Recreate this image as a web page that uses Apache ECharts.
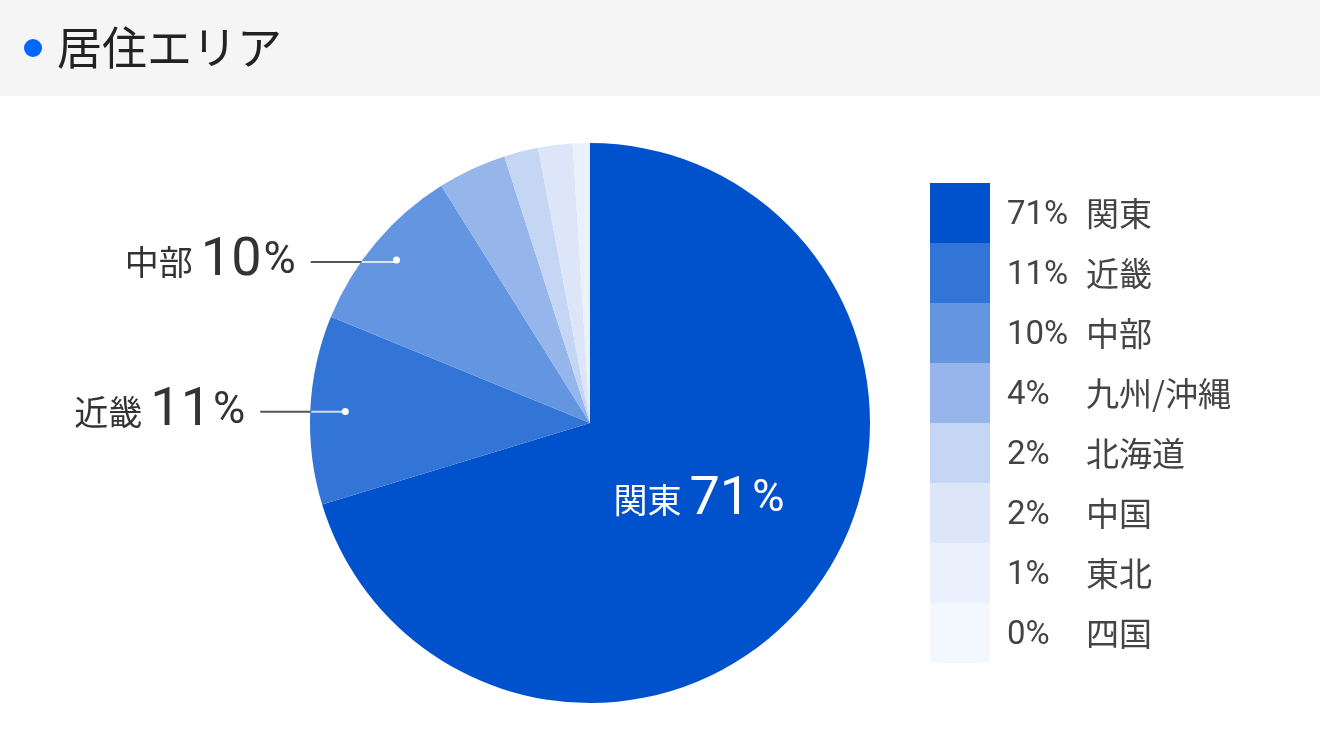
<!DOCTYPE html>
<html>
<head>
<meta charset="utf-8">
<script src="https://cdn.jsdelivr.net/npm/echarts@6/dist/echarts.min.js"></script>
<style>
  html, body { margin: 0; padding: 0; background: #fff; }
  #chart { width: 1320px; height: 752px; }
</style>
</head>
<body>
<div id="chart"></div>
<script>
// data
const areas = ["関東", "近畿", "中部", "九州/沖縄", "北海道", "中国", "東北", "四国"];
const percents = [71, 11, 10, 4, 2, 2, 1, 0];
const colors = ["#0052cc", "#3375d7", "#6495e0", "#95b5eb", "#c4d6f4", "#dce6f8", "#eaf1fc", "#f3f7fe"];
const calloutAreas = ["近畿", "中部"];
const insideAreas = ["関東"];

const FONT = 'Roboto, "Noto Sans CJK JP", sans-serif';
const JP = '"Noto Sans CJK JP", sans-serif';

const center = [590, 423];
const R = 280;
// radius where each callout line starts
const pinRadius = { "近畿": 242, "中部": 250 };

const chart = echarts.init(document.getElementById("chart"));

// label text: name + big number + small %
const bigLabel = (color, nameSize) => ({
  formatter: p => `{n|${p.name}}{v|${p.value}}{u|%}`,
  rich: {
    n: { color, fontSize: nameSize, fontFamily: JP, padding: [0, 8, 0, 0] },
    v: { color, fontSize: 54, fontFamily: FONT },
    u: { color, fontSize: 44, fontFamily: FONT, padding: [0, 0, 0, 2] }
  }
});

const base = {
  type: "pie",
  center: center,
  startAngle: 90,
  clockwise: true,
  silent: true,
  animation: false,
  avoidLabelOverlap: false
};

const onlyFor = area => areas.map((name, i) => ({
  name, value: percents[i],
  label: { show: name === area },
  labelLine: { show: name === area }
}));

// three layers per callout: gray line + text, light inner line, dot
const calloutSeries = area => {
  const r = pinRadius[area];
  return [
    Object.assign({}, base, {
      z: 1, radius: [0, r],
      itemStyle: { color: "transparent" },
      label: Object.assign({ position: "outside", distanceToLabelLine: 15 }, bigLabel("#333", 34)),
      labelLine: { show: true, length: 0, length2: 88, lineStyle: { color: "#555", width: 2 } },
      data: onlyFor(area)
    }),
    Object.assign({}, base, {
      z: 3, radius: [0, r],
      itemStyle: { color: "transparent" },
      label: { position: "outside", formatter: " ", color: "transparent", fontSize: 2 },
      labelLine: { show: true, length: 0, length2: 37, lineStyle: { color: "rgba(255,255,255,0.75)", width: 2 } },
      data: onlyFor(area)
    }),
    Object.assign({}, base, {
      z: 4, radius: [0, r * 2],
      itemStyle: { color: "transparent" },
      label: {
        position: "inside", formatter: " ", fontSize: 1,
        width: 7, height: 7, padding: 0, borderRadius: 3.5, backgroundColor: "#fff"
      },
      labelLine: { show: false },
      data: onlyFor(area)
    })
  ];
};

const option = {
  backgroundColor: "#fff",
  graphic: [
    { type: "rect", shape: { x: 0, y: 0, width: 1320, height: 96 }, style: { fill: "#f5f5f5" }, z: -10 },
    { type: "circle", shape: { cx: 33, cy: 48, r: 9 }, style: { fill: "#0066ff" } },
    {
      type: "text", x: 57, y: 48,
      style: { text: "居住エリア", fontSize: 45, fontFamily: JP, fill: "#222", verticalAlign: "middle" }
    }
  ],
  legend: {
    orient: "vertical",
    left: 930,
    top: 183,
    padding: 0,
    itemWidth: 60,
    itemHeight: 60,
    itemGap: 0,
    icon: "rect",
    selectedMode: false,
    data: areas.map((name, i) => ({ name, itemStyle: { color: colors[i] } })),
    formatter: name => `{p|${percents[areas.indexOf(name)]}%}{n|${name}}`,
    textStyle: {
      color: "#444",
      rich: {
        p: { fontSize: 33, fontFamily: FONT, color: "#444", width: 79, padding: [6, 0, 0, 12] },
        n: { fontSize: 33, fontFamily: JP, color: "#444" }
      }
    }
  },
  series: [
    // main pie
    Object.assign({}, base, {
      name: "居住エリア",
      z: 2,
      radius: [0, R],
      itemStyle: { borderWidth: 0 },
      label: Object.assign({ position: "inside", offset: [-6, -8] }, bigLabel("#fff", 34)),
      labelLine: { show: false },
      data: areas.map((name, i) => ({
        name, value: percents[i],
        itemStyle: { color: colors[i] },
        label: { show: insideAreas.includes(name) }
      }))
    })
  ].concat(...calloutAreas.map(calloutSeries))
};

chart.setOption(option);
</script>
</body>
</html>
